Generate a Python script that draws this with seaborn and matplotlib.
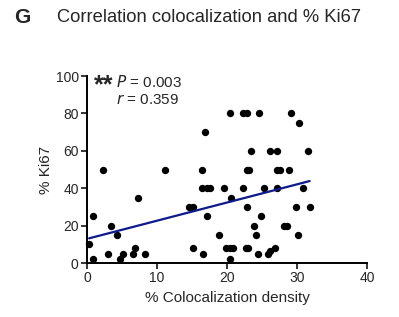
import numpy as np
import pandas as pd
import seaborn as sns
import matplotlib.pyplot as plt

# значения
coloc = [0.3, 0.9, 0.9, 2.3, 3.0, 3.5, 4.3, 4.7, 5.1, 6.6, 6.8, 7.3, 8.3, 11.2,
         14.5, 15.1, 15.2, 20.4, 22.3, 22.9, 24.6, 29.2, 30.3, 16.9, 23.4, 26.1,
         27.2, 31.5, 16.4, 22.8, 23.1, 27.1, 27.5, 28.8, 16.4, 17.1, 17.6, 19.6,
         22.3, 25.3, 27.2, 30.8, 20.5, 22.8, 29.8, 31.8, 17.2, 24.8, 23.9, 28.1,
         28.6, 18.8, 24.2, 30.2, 19.8, 20.4, 20.8, 22.7, 23.0, 26.8, 16.6, 24.4,
         25.8, 26.1, 20.4]
ki67 = [10, 25, 2, 50, 5, 20, 15, 2, 5, 5, 8, 35, 5, 50,
        30, 30, 8, 80, 80, 80, 80, 80, 75, 70, 60, 60,
        60, 60, 50, 50, 50, 50, 50, 50, 40, 40, 40, 40,
        40, 40, 40, 40, 35, 30, 30, 30, 25, 25, 20, 20,
        20, 15, 15, 15, 8, 8, 8, 8, 8, 8, 5, 5,
        5, 6.5, 2]
x_ticks = [0, 10, 20, 30, 40]
y_ticks = [0, 20, 40, 60, 80, 100]

df = pd.DataFrame({"coloc": coloc, "ki67": ki67})

sns.set_style("ticks")
plt.rcParams['font.family'] = ['Liberation Sans', 'DejaVu Sans']

fig = plt.figure(figsize=(3.99, 3.17), dpi=100)
ax = fig.add_axes([0.218, 0.170, 0.702, 0.590])

sns.regplot(data=df, x="coloc", y="ki67", ax=ax, ci=None, truncate=True,
            scatter_kws={"s": 28, "color": "black", "alpha": 1, "linewidths": 0,
                         "clip_on": False, "zorder": 3},
            line_kws={"color": "#0d1a8a", "lw": 1.6, "zorder": 4})

ax.set_xlim(0, 40)
ax.set_ylim(0, 100)
ax.set_xticks(x_ticks)
ax.set_yticks(y_ticks)
ax.tick_params(labelsize=10, length=4, width=1.1, color="black", pad=2)
for s in ["left", "bottom"]:
    ax.spines[s].set_linewidth(1.4)
    ax.spines[s].set_color("black")
sns.despine(ax=ax)
ax.set_xlabel("% Colocalization density", fontsize=11, labelpad=4)
ax.set_ylabel("% Ki67", fontsize=11, labelpad=2)

ax.text(0.024, 0.95, "**", transform=ax.transAxes, fontsize=18, fontweight="bold", va="center")
ax.text(0.104, 0.968, "$\\it{P}$ = 0.003", transform=ax.transAxes, fontsize=11, va="center")
ax.text(0.104, 0.872, "$\\it{r}$ = 0.359", transform=ax.transAxes, fontsize=11, va="center")

fig.text(0.036, 0.945, "G", fontsize=15, fontweight="bold", va="center")
fig.text(0.143, 0.945, "Correlation colocalization and % Ki67", fontsize=13.2, va="center")

fig.savefig("out.png", dpi=100)
